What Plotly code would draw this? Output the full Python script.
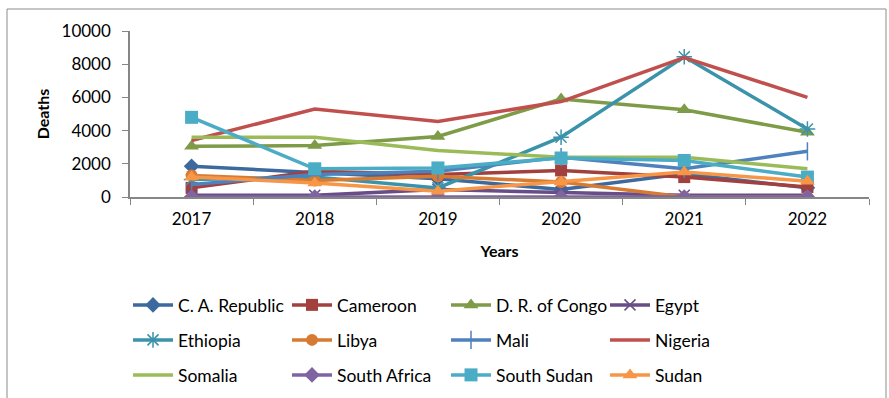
import plotly.graph_objects as go

# Yearly conflict deaths by country
years = ["2017", "2018", "2019", "2020", "2021", "2022"]

car = [1850, 1500, 1100, 450, 1400, 550]
cameroon = [550, 1550, 1350, 1600, 1200, 600]
drc = [3050, 3100, 3650, 5900, 5250, 3900]
egypt = [100, 100, 450, 300, 100, 100]
ethiopia = [1050, 1200, 550, 3600, 8450, 4100]
libya = [1300, 1000, 1250, 900, 0, 0]
mali = [750, 1350, 1550, 2400, 1700, 2750]
nigeria = [3400, 5300, 4550, 5750, 8400, 6000]
somalia = [3600, 3600, 2800, 2400, 2400, 1700]
south_africa = [0, 0, 0, 0, 0, 0]
south_sudan = [4800, 1700, 1750, 2350, 2200, 1200]
sudan = [1200, 850, 350, 900, 1500, 950]

y_ticks = [0, 2000, 4000, 6000, 8000, 10000]

series = [
    ("C. A. Republic", car, "#3D6A9E", dict(symbol="diamond", size=12), "legend"),
    ("Cameroon", cameroon, "#A2403D", dict(symbol="square", size=12), "legend"),
    ("D. R. of Congo", drc, "#7E9B47", dict(symbol="triangle-up", size=13), "legend"),
    ("Egypt", egypt, "#674E86", dict(symbol="x-thin-open", size=11, line=dict(width=1.5, color="#674E86")), "legend"),
    ("Ethiopia", ethiopia, "#3A93AB", dict(symbol="asterisk-open", size=13, line=dict(width=1.5, color="#3A93AB")), "legend2"),
    ("Libya", libya, "#D77B33", dict(symbol="circle", size=12), "legend2"),
    ("Mali", mali, "#4F81BD", dict(symbol="line-ns-open", size=13, line=dict(width=1.5, color="#4F81BD")), "legend2"),
    ("Nigeria", nigeria, "#C0504D", dict(symbol="circle", size=1, opacity=0), "legend2"),
    ("Somalia", somalia, "#9BBB59", dict(symbol="circle", size=1, opacity=0), "legend3"),
    ("South Africa", south_africa, "#8064A2", dict(symbol="diamond", size=12), "legend3"),
    ("South Sudan", south_sudan, "#4BACC6", dict(symbol="square", size=13), "legend3"),
    ("Sudan", sudan, "#F79646", dict(symbol="triangle-up", size=13), "legend3"),
]

fig = go.Figure()
for name, vals, color, marker, leg in series:
    m = dict(color=color)
    m.update(marker)
    fig.add_trace(go.Scatter(
        x=years, y=vals, name=name, mode="lines+markers",
        line=dict(color=color, width=3.5),
        marker=m, legend=leg,
    ))

font = dict(family="Lato, Open Sans, sans-serif", size=17, color="#000000")
legend_font = dict(family="Lato, Open Sans, sans-serif", size=17.5, color="#000000")
title_font = dict(family="Lato, Open Sans, sans-serif", size=16, color="#000000")

W, H = 889, 398
plot_left = 130
plot_w = 739
plot_bottom = 197
plot_h = 166


def legend_at(row_center_px):
    return dict(
        orientation="h", xref="container", yref="container",
        x=128 / W, xanchor="left",
        y=1 - row_center_px / H, yanchor="middle",
        entrywidth=104, entrywidthmode="pixels", itemwidth=40,
        font=legend_font, bgcolor="rgba(0,0,0,0)", itemclick=False,
    )


fig.update_layout(
    width=W, height=H,
    margin=dict(l=plot_left, r=W - plot_left - plot_w, t=31, b=H - plot_bottom),
    paper_bgcolor="white", plot_bgcolor="white",
    font=font,
    showlegend=True,
    legend=legend_at(305),
    legend2=legend_at(340),
    legend3=legend_at(375),
    xaxis=dict(
        type="category", range=[-0.5, 5.5], tickson="boundaries",
        ticks="outside", ticklen=6, ticklabelstandoff=6,
        tickcolor="#868686", showline=True, linecolor="#868686", linewidth=1.5,
        showgrid=False, zeroline=False, tickfont=font,
        title=dict(text="<b>Years</b>", font=title_font, standoff=18),
    ),
    yaxis=dict(
        range=[0, 10000], tickvals=y_ticks, ticktext=[str(v) for v in y_ticks],
        ticks="outside", ticklen=6, tickcolor="#868686",
        showline=True, linecolor="#868686", linewidth=1.5,
        showgrid=False, zeroline=False, tickfont=font, ticklabelstandoff=8,
        title=dict(text="<b>Deaths</b>", font=title_font, standoff=8),
    ),
)

# Outer chart border
fig.add_shape(
    type="rect", xref="paper", yref="paper",
    x0=(7 - plot_left) / plot_w, x1=(886 - plot_left) / plot_w,
    y0=(plot_bottom - 420) / plot_h, y1=(plot_bottom - 9) / plot_h,
    line=dict(color="#8C8C8C", width=1), fillcolor="rgba(0,0,0,0)", layer="below",
)

fig.write_html("out.html")
